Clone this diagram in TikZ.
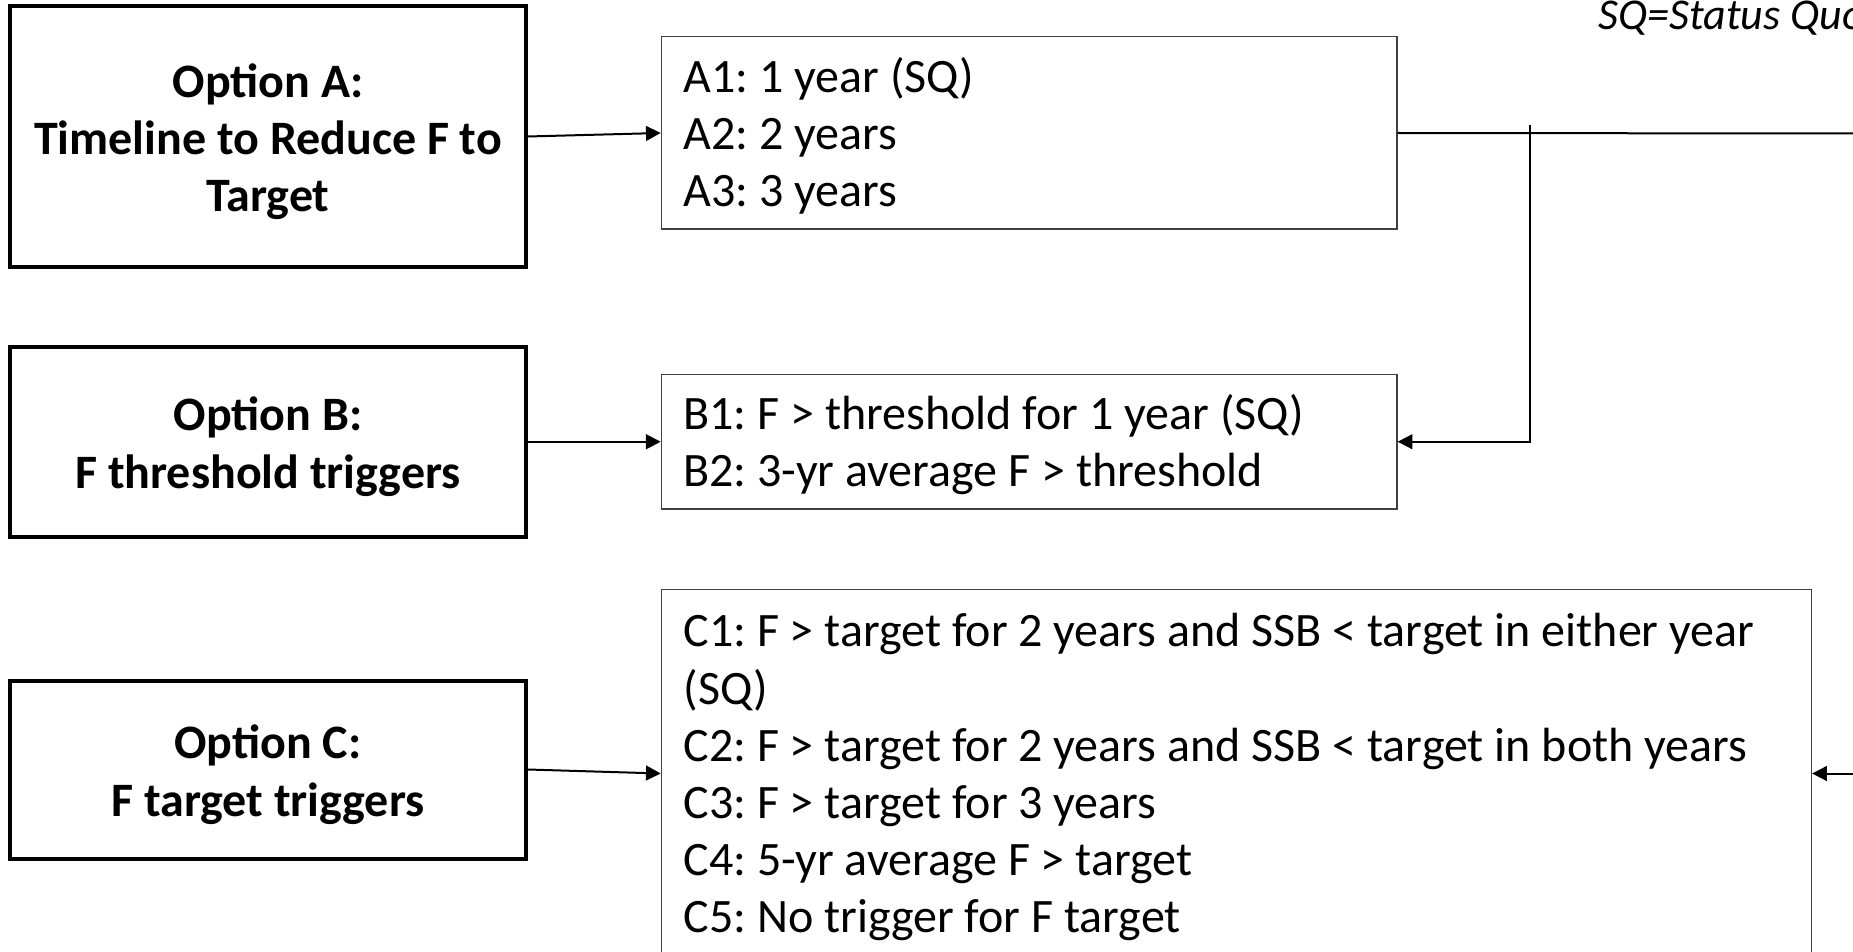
\documentclass[tikz,border=0pt]{standalone}
\usepackage{fontspec}
\setmainfont{Carlito}
\usepackage{tikz}
\usetikzlibrary{positioning}
\usetikzlibrary{arrows.meta}
\tikzset{>={Triangle[width=2.6mm,length=2.6mm]}}
\frenchspacing

\begin{document}
\begin{tikzpicture}[x=0.5pt, y=-0.5pt, optnode/.style={rectangle, draw=black, line width=2pt, minimum width=257.75pt, text width=245pt, inner xsep=4pt, align=flush center, font=\fontsize{24}{28.7}\selectfont\bfseries, execute at begin node={\rule{0pt}{22pt}}}, listnode/.style={rectangle, draw=black!75, line width=0.7pt, minimum width=367.75pt, text width=345.75pt, inner xsep=11pt, align=flush left, font=\fontsize{24}{28.6}\selectfont, execute at begin node={\rule{0pt}{20.5pt}}}, link/.style={->, line width=1pt}]

    \useasboundingbox (0,0) rectangle (1853,952);
    \clip (0,0) rectangle (1853,952);

    %Nodes
    \node[optnode, minimum height=130.5pt](optA) at (268,136.5){Option A:\\Timeline to Reduce F to\\Target};
    \node[optnode, minimum height=94.75pt](optB)[below=38pt of optA]{Option B:\\F threshold triggers};
    \node[optnode, minimum height=89pt](optC)[below=70pt of optB]{Option C:\\F target triggers};
    \node[listnode, minimum height=96.2pt](listA)[right=66.5pt of optA, yshift=1.75pt]{A1: 1 year (SQ)\\A2: 2 years\\A3: 3 years};
    \node[listnode, minimum height=67.2pt](listB)[right=66.5pt of optB]{B1: F > threshold for 1 year (SQ)\\B2: 3-yr average F > threshold};
    \node[listnode, minimum height=184pt, minimum width=575pt, text width=553pt](listC)[right=66.5pt of optC, yshift=-2pt]{C1: F > target for 2 years and SSB < target in either year\\(SQ)\\C2: F > target for 2 years and SSB < target in both years\\C3: F > target for 3 years\\C4: 5-yr average F > target\\C5: No trigger for F target};
    \node[anchor=base west, inner sep=0pt, font=\fontsize{22}{26}\selectfont\itshape](sqnote) at (1598,30){SQ=Status Quo};
    \coordinate (outA) at (1853,133.5);
    \coordinate (jointop) at (1530,125);
    \coordinate (inC) at (listC.east -| outA);

    %Lines
    \draw[link] (optA.east) -- (listA.west);
    \draw[link] (optB.east) -- (listB.west);
    \draw[link] (optC.east) -- (listC.west);
    \draw[line width=1pt] (listA.east) -- (outA);
    \draw[link] (jointop) |- (listB.east);
    \draw[link] (inC) -- (listC.east);

\end{tikzpicture}
\end{document}
